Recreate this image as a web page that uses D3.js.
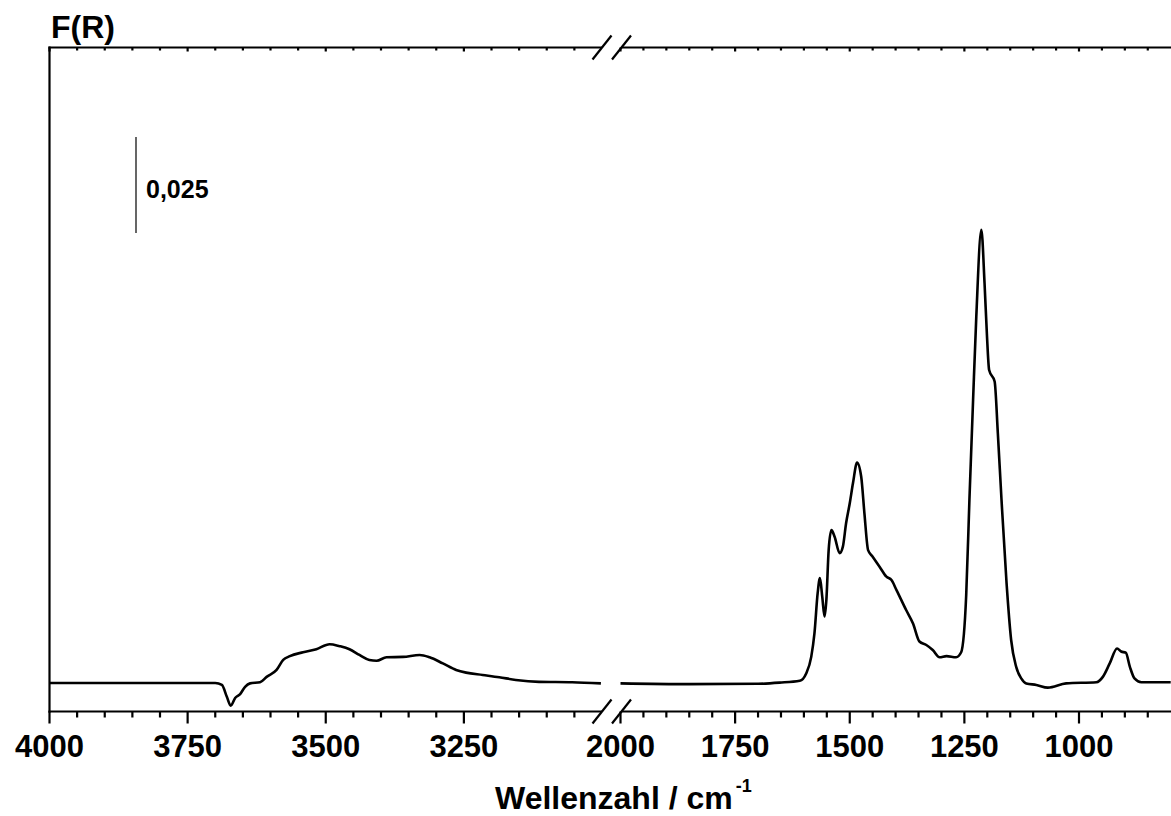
<!DOCTYPE html>
<html>
<head>
<meta charset="utf-8">
<script src="https://cdn.jsdelivr.net/npm/d3@7"></script>
<style>
  html, body { margin: 0; padding: 0; background: #fff; }
  svg { display: block; }
  text { font-family: Arial, "Liberation Sans", sans-serif; font-weight: bold; fill: #000; }
</style>
</head>
<body>
<svg id="chart" width="1171" height="816"></svg>
<script>
// DRIFT spectrum, F(R) vs wavenumber, with a broken x axis (4000–3000 | 2000–800 cm-1)

// High-wavenumber segment (OH / NH region)
const highWavenumber = [4000, 3800, 3700, 3688, 3679, 3672, 3664, 3655, 3646, 3637, 3619, 3607, 3589, 3577, 3565,
  3541, 3517, 3493, 3475, 3457, 3439, 3421, 3408, 3390, 3360, 3330, 3312, 3288, 3264, 3246, 3216, 3186, 3156,
  3114, 3054, 3002];
const highFR = [0.0000, 0.0000, 0.0000, -0.0005, -0.0036, -0.0059, -0.0039, -0.0029, -0.0010, -0.0001, 0.0002,
  0.0016, 0.0034, 0.0060, 0.0070, 0.0080, 0.0088, 0.0101, 0.0096, 0.0088, 0.0073, 0.0060, 0.0058, 0.0067,
  0.0068, 0.0073, 0.0067, 0.0051, 0.0034, 0.0027, 0.0021, 0.0015, 0.0008, 0.0003, 0.0002, -0.0001];

// Low-wavenumber segment (fingerprint region)
const lowWavenumber = [2000, 1850, 1700, 1653, 1609, 1595, 1584, 1577, 1570, 1565, 1560, 1555, 1551, 1546, 1540,
  1533, 1522, 1515, 1508, 1500, 1493, 1484, 1475, 1468, 1460, 1450, 1435, 1420, 1409, 1398, 1377, 1362, 1348,
  1333, 1319, 1304, 1289, 1268, 1257, 1246, 1239, 1231, 1224, 1213, 1206, 1201, 1196, 1184, 1177, 1169, 1158,
  1148, 1137, 1126, 1115, 1093, 1068, 1028, 962, 948, 933, 917, 908, 898, 889, 879, 864, 800];
const lowFR = [-0.0001, -0.0003, -0.0002, 0.0001, 0.0006, 0.0025, 0.0068, 0.0129, 0.0234, 0.0273, 0.0225, 0.0173,
  0.0216, 0.0346, 0.0398, 0.0381, 0.0338, 0.0355, 0.0416, 0.0468, 0.0520, 0.0574, 0.0537, 0.0442, 0.0346,
  0.0329, 0.0303, 0.0277, 0.0268, 0.0242, 0.0190, 0.0155, 0.0108, 0.0099, 0.0086, 0.0067, 0.0070, 0.0067,
  0.0080, 0.0229, 0.0477, 0.0737, 0.0954, 0.1180, 0.1041, 0.0911, 0.0815, 0.0785, 0.0650, 0.0477, 0.0260,
  0.0112, 0.0042, 0.0012, -0.0001, -0.0005, -0.0012, -0.0001, 0.0002, 0.0016, 0.0051, 0.0090, 0.0082, 0.0079,
  0.0042, 0.0012, 0.0002, 0.0002];

// Axis ticks for each segment
const highMajorTicks = [4000, 3750, 3500, 3250];
const highMinorTicks = d3.range(4000, 3000, -50);
const lowMajorTicks = [2000, 1750, 1500, 1250, 1000];
const lowMinorTicks = d3.range(2000, 800, -50);

// Scale bar: start value and length in F(R) units
const scaleBarStart = 0.1172;
const scaleBarLength = 0.025;
const scaleBarLabel = "0,025";

const yLabel = "F(R)";
const xTitle = "Wellenzahl / cm";
const xTitleSup = "-1";

// ---- layout ----
const svg = d3.select("#chart");
const plotTop = 47.5, plotBottom = 711.5, plotLeft = 49.5, plotRight = 1171;
const breakL = 602, breakR = 621.5;

const xHigh = d3.scaleLinear().domain([4000, 3000]).range([plotLeft, breakL]);
const xLow = d3.scaleLinear().domain([2000, 800]).range([620.5, 1170.7]);
const y = d3.scaleLinear().domain([-0.00742, 0.16549]).range([plotBottom, plotTop]);

const axisW = 2.2;

// Frame lines (left axis, top and bottom split by the break)
const frame = svg.append("g").attr("stroke", "#000").attr("stroke-width", axisW).attr("fill", "none");
frame.append("line").attr("x1", plotLeft).attr("x2", plotLeft).attr("y1", plotTop - 1).attr("y2", plotBottom + 1);
[plotTop, plotBottom].forEach(yy => {
  frame.append("line").attr("x1", plotLeft - 1).attr("x2", breakL).attr("y1", yy).attr("y2", yy);
  frame.append("line").attr("x1", breakR).attr("x2", plotRight).attr("y1", yy).attr("y2", yy);
});

// Break marks: two slashes on each horizontal axis
[plotTop, plotBottom].forEach(yy => {
  [breakL, breakR].forEach(cx => {
    frame.append("line")
      .attr("x1", cx - 9.5).attr("y1", yy + 12)
      .attr("x2", cx + 9.5).attr("y2", yy - 12);
  });
});

// Bottom axis ticks (outward) and top axis ticks (inward, short)
function drawTicks(scale, minor, major) {
  const g = svg.append("g").attr("stroke", "#000").attr("stroke-width", axisW);
  minor.forEach(v => {
    const isMajor = major.includes(v);
    const x = scale(v);
    g.append("line").attr("x1", x).attr("x2", x).attr("y1", plotBottom).attr("y2", plotBottom + (isMajor ? 12 : 6));
    g.append("line").attr("x1", x).attr("x2", x).attr("y1", plotTop).attr("y2", plotTop + (isMajor ? 4 : 3));
  });
  svg.append("g").selectAll("text").data(major).join("text")
    .attr("x", d => scale(d)).attr("y", 757)
    .attr("text-anchor", "middle")
    .attr("font-size", 31)
    .text(d => d);
}
drawTicks(xHigh, highMinorTicks, highMajorTicks);
drawTicks(xLow, lowMinorTicks, lowMajorTicks);

// Spectrum traces
const curve = d3.curveMonotoneX;
const highLine = d3.line().x(d => xHigh(d[0])).y(d => y(d[1])).curve(curve);
const lowLine = d3.line().x(d => xLow(d[0])).y(d => y(d[1])).curve(curve);

svg.append("path")
  .attr("d", highLine(d3.zip(highWavenumber, highFR)))
  .attr("fill", "none").attr("stroke", "#000").attr("stroke-width", 2.6).attr("stroke-linejoin", "round");
svg.append("path")
  .attr("d", lowLine(d3.zip(lowWavenumber, lowFR)))
  .attr("fill", "none").attr("stroke", "#000").attr("stroke-width", 2.6).attr("stroke-linejoin", "round");

// Intensity scale bar
svg.append("line")
  .attr("x1", 136).attr("x2", 136)
  .attr("y1", y(scaleBarStart)).attr("y2", y(scaleBarStart + scaleBarLength))
  .attr("stroke", "#000").attr("stroke-width", 1.2);
svg.append("text").attr("x", 146).attr("y", 198).attr("font-size", 25).text(scaleBarLabel);

// Axis labels
svg.append("text").attr("x", 51).attr("y", 37.5).attr("font-size", 32).text(yLabel);
const title = svg.append("text").attr("x", 495).attr("y", 809).attr("font-size", 32);
title.append("tspan").text(xTitle);
title.append("tspan").attr("font-size", 18).attr("dx", 3).attr("dy", -17).text(xTitleSup);
</script>
</body>
</html>
